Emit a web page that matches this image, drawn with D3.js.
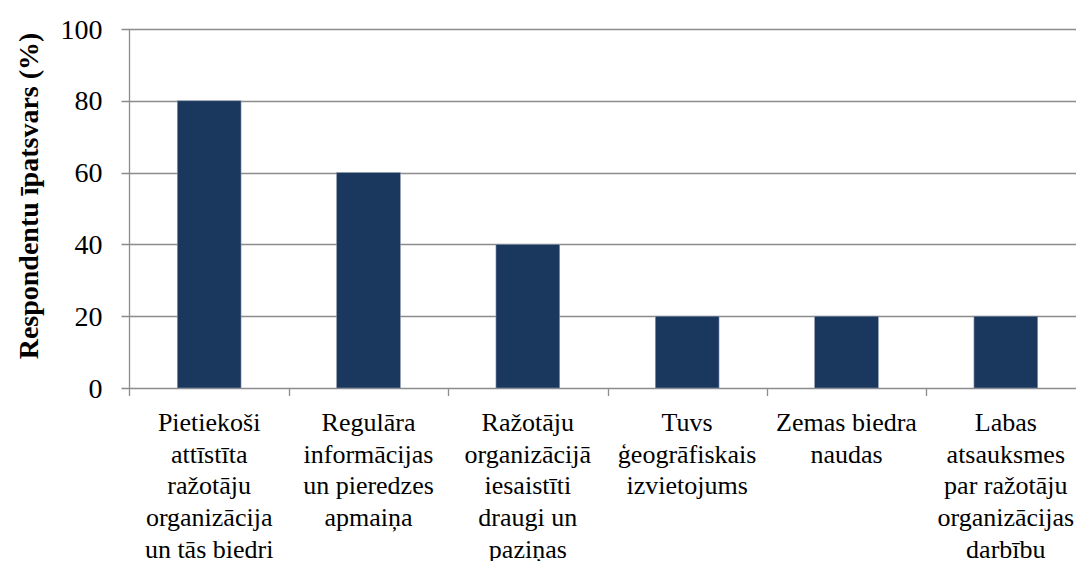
<!DOCTYPE html>
<html>
<head>
<meta charset="utf-8">
<script src="https://cdn.jsdelivr.net/npm/d3@7"></script>
</head>
<body style="margin:0;background:#fff">
<div class="canvas"></div>
<script>
const categories = [
    "Pietiekoši\nattīstīta\nražotāju\norganizācija\nun tās biedri",
    "Regulāra\ninformācijas\nun pieredzes\napmaiņa",
    "Ražotāju\norganizācijā\niesaistīti\ndraugi un\npaziņas",
    "Tuvs\nģeogrāfiskais\nizvietojums",
    "Zemas biedra\nnaudas",
    "Labas\natsauksmes\npar ražotāju\norganizācijas\ndarbību"
];
const shares = [80, 60, 40, 20, 20, 20];
const yTicks = [0, 20, 40, 60, 80, 100];
const yTitle = "Respondentu īpatsvars (%)";

const fontName = "Liberation Serif";
const width = 1076, height = 561;
const margin = { top: 29, left: 129.5 };
const graphWidth = 956;
const graphHeight = 359;

const svg = d3.select(".canvas")
    .append("svg")
    .attr("width", width)
    .attr("height", height)
    .attr("font-family", fontName)
    .style("display", "block");

const x = d3.scaleBand()
    .domain(categories)
    .range([margin.left, margin.left + graphWidth])
    .paddingInner(0.6)
    .paddingOuter(0.3);

const step = graphWidth / categories.length;

const y = d3.scaleLinear()
    .domain([0, 100])
    .range([margin.top + graphHeight, margin.top]);

// gridlines
svg.append("g")
    .selectAll("line")
    .data(yTicks)
    .enter()
    .append("line")
    .attr("x1", margin.left - 8)
    .attr("x2", margin.left + graphWidth)
    .attr("y1", d => Math.round(y(d)) + 0.5)
    .attr("y2", d => Math.round(y(d)) + 0.5)
    .attr("stroke", "#8c8c8c")
    .attr("stroke-width", 1.3);

// bars
svg.selectAll("rect")
    .data(shares)
    .enter()
    .append("rect")
    .attr("x", (d, i) => x(categories[i]))
    .attr("width", x.bandwidth())
    .attr("y", d => y(d))
    .attr("height", d => y(0) - y(d))
    .attr("fill", "#1a375e")
    .attr("stroke", "#8a98ab")
    .attr("stroke-width", 0.6);

svg.append("line")
    .attr("x1", margin.left).attr("x2", margin.left)
    .attr("y1", y(100)).attr("y2", y(0) + 8)
    .attr("stroke", "#8c8c8c")
    .attr("stroke-width", 1.3);

// y tick labels
svg.append("g")
    .selectAll("text")
    .data(yTicks)
    .enter()
    .append("text")
    .attr("x", margin.left - 27)
    .attr("y", d => y(d))
    .attr("dy", "0.34em")
    .attr("text-anchor", "end")
    .attr("font-size", 28)
    .attr("fill", "#000")
    .style("font-family", `"${fontName}"`)
    .text(d => d);

// category boundary ticks
svg.append("g")
    .selectAll("line")
    .data(d3.range(1, categories.length + 1))
    .enter()
    .append("line")
    .attr("x1", d => Math.round(margin.left + d * step) + 0.5)
    .attr("x2", d => Math.round(margin.left + d * step) + 0.5)
    .attr("y1", y(0))
    .attr("y2", y(0) + 8)
    .attr("stroke", "#8c8c8c")
    .attr("stroke-width", 1.3);

// category labels, one text per line
const labelLines = categories.flatMap(c =>
    c.split("\n").map((line, i) => ({ cat: c, line, i })));

svg.append("g")
    .selectAll("text")
    .data(labelLines)
    .enter()
    .append("text")
    .attr("x", d => x(d.cat) + x.bandwidth() / 2)
    .attr("y", d => y(0) + 43 + d.i * 31.7)
    .attr("text-anchor", "middle")
    .attr("font-size", 26)
    .attr("fill", "#000")
    .style("font-family", `"${fontName}"`)
    .text(d => d.line);

// y title
svg.append("text")
    .attr("transform", `translate(38, 196) rotate(-90)`)
    .attr("text-anchor", "middle")
    .attr("font-size", 28)
    .attr("font-weight", "bold")
    .attr("fill", "#000")
    .style("font-family", `"${fontName}"`)
    .text(yTitle);
</script>
</body>
</html>
